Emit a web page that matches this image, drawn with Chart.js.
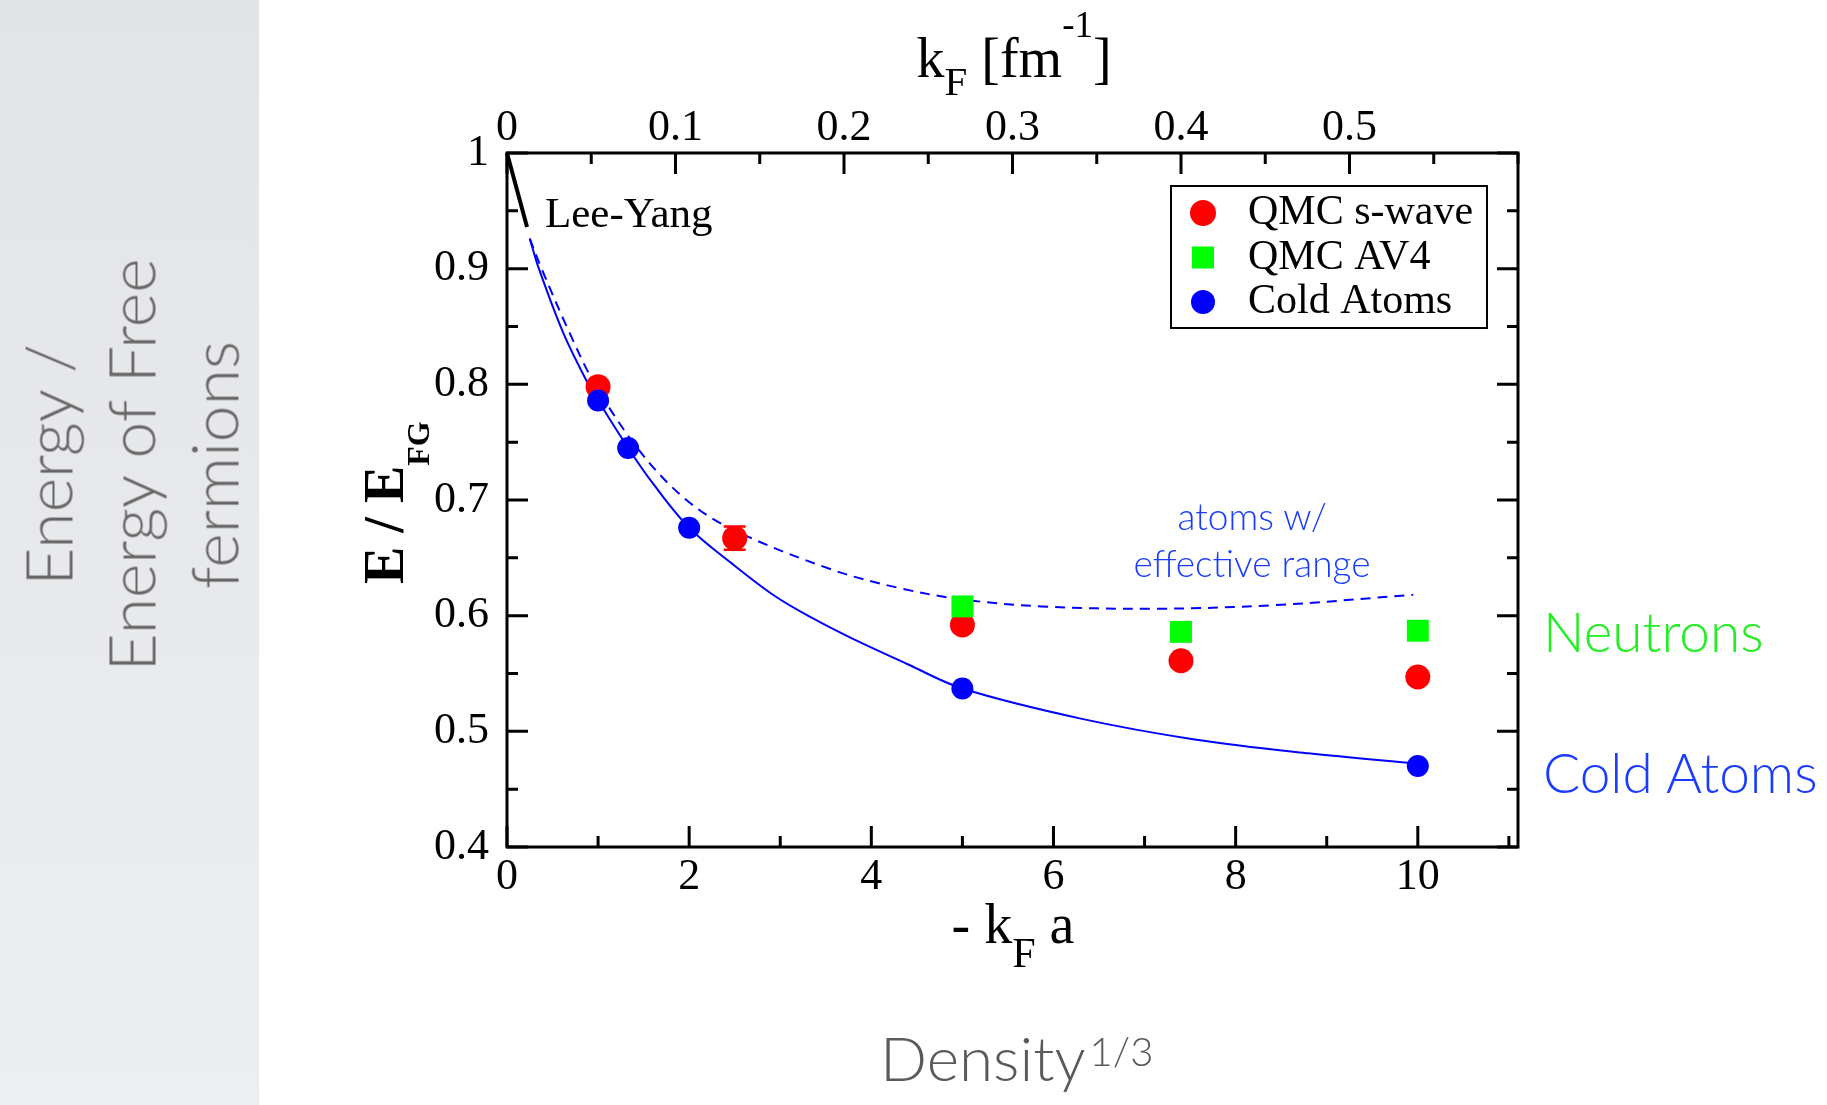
<!DOCTYPE html>
<html>
<head>
<meta charset="utf-8">
<script src="https://cdn.jsdelivr.net/npm/chart.js@4.4.1/dist/chart.umd.min.js"></script>
<style>
  html, body { margin: 0; padding: 0; width: 1827px; height: 1105px; overflow: hidden; background: #fff; }
  #side { position: absolute; left: 0; top: 0; width: 259px; height: 1105px; background: linear-gradient(#e2e4e7, #eceef0); }
  #c { position: absolute; left: 0; top: 0; }
  .t { position: absolute; white-space: nowrap; line-height: 1; }
  .bl { display: inline-block; width: 0; height: 0; vertical-align: baseline; }
  .serif { font-family: "Liberation Serif", "DejaVu Serif", serif; color: #000; }
  .gill { font-family: Lato, "Open Sans", sans-serif; font-weight: 300; }
  #sideText { position: absolute; left: 130px; top: 465px; transform: translate(-50%, -50%) rotate(-90deg);
    font-family: Lato, "Open Sans", sans-serif; font-weight: 300; font-size: 66px; line-height: 83px;
    color: #666; text-align: center; white-space: nowrap; }
</style>
</head>
<body>
<div id="side"></div>
<canvas id="c" width="1827" height="1105"></canvas>
<div id="sideText">Energy /<br>Energy of Free<br>fermions</div>
<script>
// -k_F a values and E/E_FG
var kFa_swave = [1.0, 2.5, 5.0, 7.4, 10.0];
var E_swave   = [0.798, 0.667, 0.592, 0.561, 0.547];
var err_swave = [0, 0.010, 0, 0, 0];

var kFa_av4 = [5.0, 7.4, 10.0];
var E_av4   = [0.608, 0.586, 0.587];

var kFa_atoms = [1.0, 1.33, 2.0, 5.0, 10.0];
var E_atoms   = [0.786, 0.745, 0.676, 0.537, 0.470];

// solid curve through the cold atom points
var kFa_fit = [0.25, 0.35, 0.62, 0.88, 1.0, 1.33, 1.6, 2.0, 2.47, 2.94, 3.35, 3.77, 4.4, 5.0, 6.3, 7.55, 8.8, 10.0];
var E_fit   = [0.926, 0.900, 0.844, 0.802, 0.786, 0.745, 0.7145, 0.676, 0.645, 0.617, 0.598, 0.581, 0.558, 0.537, 0.511, 0.493, 0.481, 0.472];

// dashed curve, atoms with effective range
var kFa_range = [0.25, 0.38, 0.69, 0.966, 1.46, 1.97, 2.49, 3.56, 4.3, 5.0, 5.87, 7.1, 8.4, 9.95];
var E_range   = [0.926, 0.900, 0.844, 0.800, 0.742, 0.700, 0.674, 0.640, 0.624, 0.614, 0.608, 0.606, 0.609, 0.618];

// Lee-Yang low density line
var kFa_leeYang = [0, 0.22];
var E_leeYang   = [1.0, 0.936];

var xTickLabels  = ['0', '2', '4', '6', '8', '10'];
var kFTickLabels = ['0', '0.1', '0.2', '0.3', '0.4', '0.5'];
var yTickLabels  = ['0.4', '0.5', '0.6', '0.7', '0.8', '0.9', '1'];

var serif = '"Liberation Serif", "DejaVu Serif", serif';

function pts(xs, ys) {
  return xs.map(function(x, i) { return { x: x, y: ys[i] }; });
}
function tickLabel(list) {
  return function(v) {
    var s = String(Math.round(v * 100) / 100);
    return list.indexOf(s) >= 0 ? s : '';
  };
}

// frame + inward ticks (mirrored on the right)
var framePlugin = {
  id: 'frame',
  afterDraw: function(chart) {
    var ctx = chart.ctx, a = chart.chartArea;
    var sx = chart.scales.x, sk = chart.scales.x2, sy = chart.scales.y;
    ctx.save();
    ctx.strokeStyle = '#000';
    ctx.lineWidth = 3;
    ctx.strokeRect(a.left, a.top, a.right - a.left, a.bottom - a.top);
    ctx.beginPath();
    sx.ticks.forEach(function(t) {
      var p = sx.getPixelForValue(t.value), len = t.label ? 21 : 11;
      ctx.moveTo(p, a.bottom); ctx.lineTo(p, a.bottom - len);
    });
    sk.ticks.forEach(function(t) {
      var p = sk.getPixelForValue(t.value), len = t.label ? 21 : 11;
      ctx.moveTo(p, a.top); ctx.lineTo(p, a.top + len);
    });
    sy.ticks.forEach(function(t) {
      var p = sy.getPixelForValue(t.value), len = t.label ? 21 : 11;
      ctx.moveTo(a.left, p); ctx.lineTo(a.left + len, p);
      ctx.moveTo(a.right, p); ctx.lineTo(a.right - len, p);
    });
    ctx.stroke();
    ctx.restore();
  }
};

var errorBarPlugin = {
  id: 'errbars',
  afterDatasetsDraw: function(chart) {
    var ctx = chart.ctx, sx = chart.scales.x, sy = chart.scales.y;
    chart.data.datasets.forEach(function(ds) {
      if (!ds.errors) return;
      ctx.save();
      ctx.strokeStyle = ds.backgroundColor;
      ctx.lineWidth = 2.5;
      ds.data.forEach(function(d, j) {
        var e = ds.errors[j];
        if (!e) return;
        var x = sx.getPixelForValue(d.x);
        var y1 = sy.getPixelForValue(d.y - e), y2 = sy.getPixelForValue(d.y + e);
        ctx.beginPath();
        ctx.moveTo(x, y1); ctx.lineTo(x, y2);
        ctx.moveTo(x - 11, y1); ctx.lineTo(x + 11, y1);
        ctx.moveTo(x - 11, y2); ctx.lineTo(x + 11, y2);
        ctx.stroke();
      });
      ctx.restore();
    });
  }
};

var legendPlugin = {
  id: 'boxLegend',
  afterDraw: function(chart) {
    var ctx = chart.ctx, a = chart.chartArea;
    var items = chart.data.datasets.filter(function(d) { return d.inLegend; });
    var bx = a.right - 347, by = a.top + 33;
    ctx.save();
    ctx.fillStyle = '#fff';
    ctx.fillRect(bx, by, 316, 142);
    ctx.strokeStyle = '#000';
    ctx.lineWidth = 2;
    ctx.strokeRect(bx, by, 316, 142);
    ctx.font = '42px ' + serif;
    ctx.textBaseline = 'alphabetic';
    items.forEach(function(d, i) {
      var cy = a.top + 60 + i * 44.5, cx = a.right - 315;
      ctx.fillStyle = d.backgroundColor;
      ctx.beginPath();
      if (d.pointStyle === 'rect') {
        ctx.rect(cx - 11, cy - 11, 22, 22);
      } else {
        ctx.arc(cx, cy, d.legendRadius, 0, Math.PI * 2);
      }
      ctx.fill();
      ctx.fillStyle = '#000';
      ctx.fillText(d.label, a.right - 270, cy + 11);
    });
    ctx.restore();
  }
};

var ctx = document.getElementById('c').getContext('2d');
var chart = new Chart(ctx, {
  type: 'scatter',
  data: {
    datasets: [
      {
        label: 'QMC s-wave',
        data: pts(kFa_swave, E_swave),
        errors: err_swave,
        backgroundColor: '#ff0000',
        borderColor: '#ff0000',
        pointRadius: 12.5,
        pointBorderWidth: 0,
        legendRadius: 13,
        inLegend: true,
        order: 2
      },
      {
        label: 'QMC AV4',
        data: pts(kFa_av4, E_av4),
        backgroundColor: '#00ff00',
        borderColor: '#00ff00',
        pointStyle: 'rect',
        pointRadius: 15.5,
        pointBorderWidth: 0,
        inLegend: true,
        order: 1
      },
      {
        label: 'Cold Atoms',
        data: pts(kFa_atoms, E_atoms),
        backgroundColor: '#0000ff',
        borderColor: '#0000ff',
        pointRadius: 11,
        pointBorderWidth: 0,
        legendRadius: 12,
        inLegend: true,
        order: 0
      },
      {
        label: 'fit',
        data: pts(kFa_fit, E_fit),
        showLine: true,
        borderColor: '#0000ff',
        borderWidth: 2,
        pointRadius: 0,
        tension: 0.35,
        order: 3
      },
      {
        label: 'effective range',
        data: pts(kFa_range, E_range),
        showLine: true,
        borderColor: '#0000ff',
        borderWidth: 2,
        borderDash: [10, 7],
        pointRadius: 0,
        tension: 0.35,
        order: 3
      },
      {
        label: 'Lee-Yang',
        data: pts(kFa_leeYang, E_leeYang),
        showLine: true,
        borderColor: '#000',
        borderWidth: 4,
        pointRadius: 0,
        clip: false,
        order: 3
      }
    ]
  },
  options: {
    responsive: false,
    animation: false,
    events: [],
    layout: { padding: { left: 397, right: 309, top: 83, bottom: 188 } },
    plugins: { legend: { display: false }, tooltip: { enabled: false } },
    scales: {
      x: {
        type: 'linear', position: 'bottom', min: 0, max: 11.1,
        grid: { display: false }, border: { display: false },
        ticks: { stepSize: 1, includeBounds: false, autoSkip: false, maxRotation: 0, padding: -4,
                 color: '#000', font: { family: serif, size: 44 }, callback: tickLabel(xTickLabels) },
        afterFit: function(s) { s.height = 70; }
      },
      x2: {
        type: 'linear', position: 'top', min: 0, max: 0.6,
        grid: { display: false }, border: { display: false },
        ticks: { stepSize: 0.05, includeBounds: false, autoSkip: false, maxRotation: 0, padding: -10,
                 color: '#000', font: { family: serif, size: 44 }, callback: tickLabel(kFTickLabels) },
        afterFit: function(s) { s.height = 70; }
      },
      y: {
        type: 'linear', position: 'left', min: 0.4, max: 1.0,
        grid: { display: false }, border: { display: false },
        ticks: { stepSize: 0.05, includeBounds: false, autoSkip: false, padding: 10,
                 color: '#000', font: { family: serif, size: 44 }, callback: tickLabel(yTickLabels) },
        afterFit: function(s) { s.width = 110; }
      }
    }
  },
  plugins: [errorBarPlugin, framePlugin, legendPlugin]
});

// text placed by its baseline
function place(html, cls, x, baseline, align, extra) {
  var d = document.createElement('div');
  d.className = 't ' + cls;
  d.innerHTML = '<span class="bl"></span>' + html;
  if (extra) d.setAttribute('style', extra);
  document.body.appendChild(d);
  var off = d.querySelector('.bl').offsetTop;
  var w = d.offsetWidth;
  d.style.top = (baseline - off) + 'px';
  d.style.left = (align === 'center' ? x - w / 2 : x) + 'px';
  return d;
}

place('k<span style="position:relative;top:18px;font-size:41px">F</span> [fm<span style="position:relative;top:-40px;font-size:37px">-1</span>]',
      'serif', 1014, 77, 'center', 'font-size:56px');
place('- k<span style="position:relative;top:24px;font-size:42px">F</span> a',
      'serif', 1013, 943, 'center', 'font-size:56px');
place('Lee-Yang', 'serif', 545, 227, 'left', 'font-size:43px');
place('atoms w/', 'gill', 1252, 530, 'center', 'font-size:37px;color:#1a3cff');
place('effective range', 'gill', 1252, 577, 'center', 'font-size:37px;color:#1a3cff');
place('Neutrons', 'gill', 1543, 652, 'left', 'font-size:55px;color:#22ee22');
place('Cold Atoms', 'gill', 1543, 793, 'left', 'font-size:55px;color:#1a3cff');
place('Density<span style="position:relative;top:-15px;font-size:40px;margin-left:4px">1/3</span>',
      'gill', 880, 1081, 'left', 'font-size:62px;color:#5a5a5a');

// rotated y title, baseline vertical at x = 403, centred on the plot
var yt = place('E / E<span style="position:relative;top:26px;font-size:32px">FG</span>',
               'serif', 0, 0, 'left', 'font-size:56px;font-weight:bold');
var ytOff = yt.querySelector('.bl').offsetTop;
var ytW = yt.offsetWidth;
yt.style.left = '403px';
yt.style.top = (502 + ytW / 2 - ytOff) + 'px';
yt.style.transformOrigin = '0px ' + ytOff + 'px';
yt.style.transform = 'rotate(-90deg)';
</script>
</body>
</html>
